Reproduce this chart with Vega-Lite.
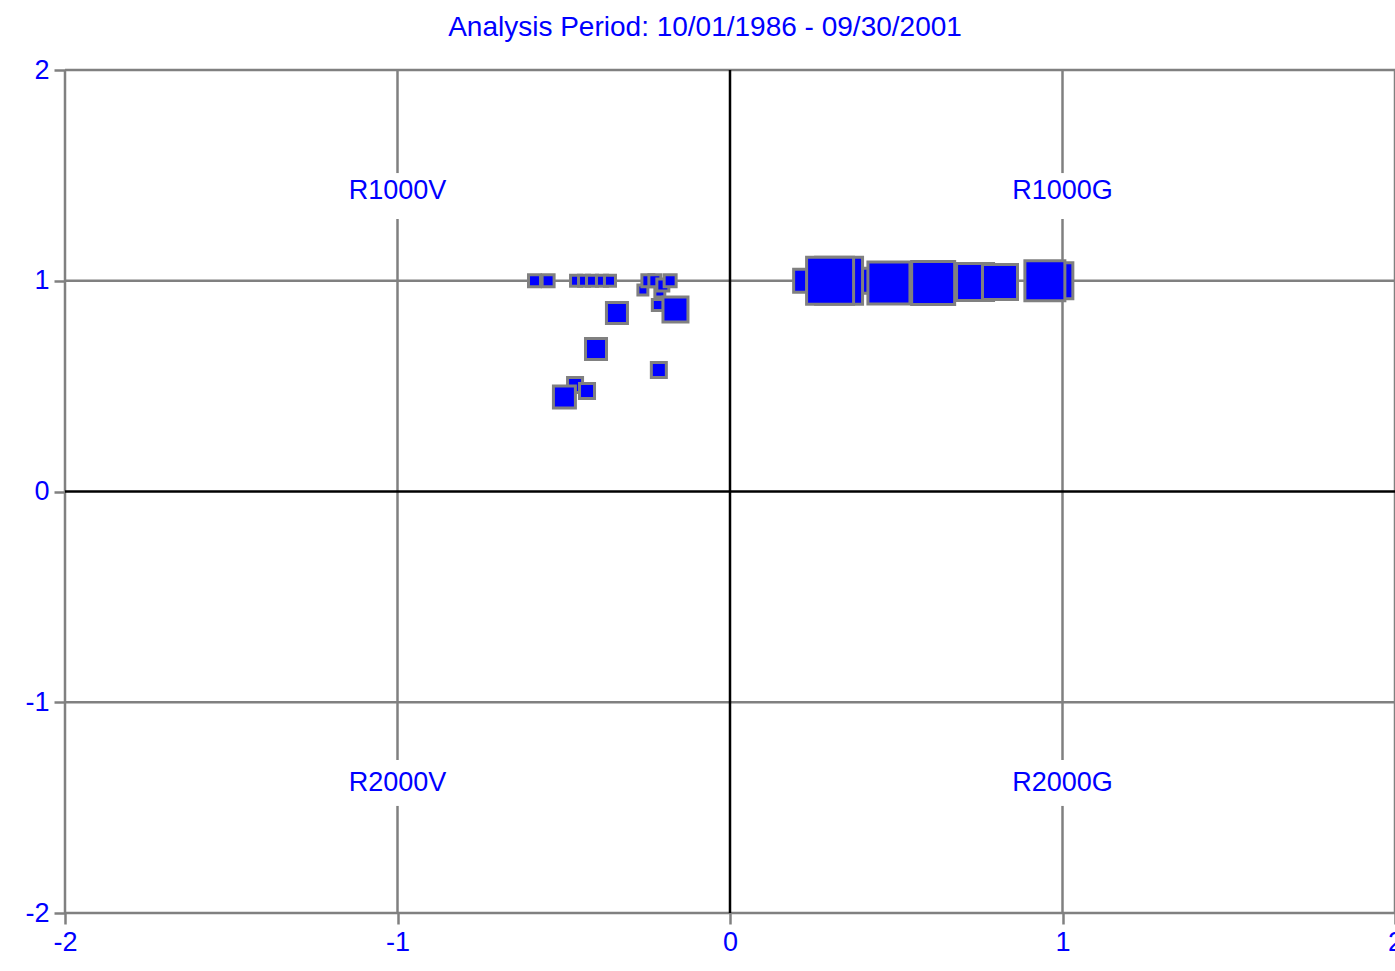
{
  "$schema": "https://vega.github.io/schema/vega-lite/v6.json",
  "width": 1330,
  "height": 843,
  "autosize": {"type": "none"},
  "padding": {"left": 65, "top": 70, "right": 0, "bottom": 58},
  "background": "white",
  "config": {"view": {"stroke": null}, "font": "Liberation Sans"},
  "title": {
    "text": "Analysis Period: 10/01/1986 - 09/30/2001",
    "fontSize": 28,
    "fontWeight": "normal",
    "color": "#0000ff",
    "font": "Liberation Sans",
    "anchor": "middle",
    "offset": 14,
    "dx": -25
  },
  "datasets": {
    "grid": [
      {"x1": -2, "x2": 2, "y1": 2, "y2": 2},
      {"x1": -2, "x2": 2, "y1": 1, "y2": 1},
      {"x1": -2, "x2": 2, "y1": -1, "y2": -1},
      {"x1": -2, "x2": 2, "y1": -2, "y2": -2},
      {"x1": -2, "x2": -2, "y1": -2, "y2": 2},
      {"x1": 2, "x2": 2, "y1": -2, "y2": 2},
      {"x1": -1, "x2": -1, "y1": -2, "y2": -1.492},
      {"x1": -1, "x2": -1, "y1": -1.274, "y2": 1.293},
      {"x1": -1, "x2": -1, "y1": 1.511, "y2": 2},
      {"x1": 1, "x2": 1, "y1": -2, "y2": -1.492},
      {"x1": 1, "x2": 1, "y1": -1.274, "y2": 1.293},
      {"x1": 1, "x2": 1, "y1": 1.511, "y2": 2}
    ],
    "zero": [
      {"x1": 0, "x2": 0, "y1": -2, "y2": 2},
      {"x1": -2, "x2": 2, "y1": 0, "y2": 0}
    ],
    "labels": [
      {"x": -1, "y": 1.426, "label": "R1000V"},
      {"x": 1, "y": 1.426, "label": "R1000G"},
      {"x": -1, "y": -1.383, "label": "R2000V"},
      {"x": 1, "y": -1.383, "label": "R2000G"}
    ],
    "points": [
      {"x": -0.547, "y": 1.0, "w": 0.065},
      {"x": -0.588, "y": 1.0, "w": 0.065},
      {"x": -0.463, "y": 1.0, "w": 0.055},
      {"x": -0.439, "y": 1.0, "w": 0.055},
      {"x": -0.415, "y": 1.0, "w": 0.055},
      {"x": -0.385, "y": 1.0, "w": 0.055},
      {"x": -0.361, "y": 1.0, "w": 0.055},
      {"x": -0.211, "y": 0.947, "w": 0.045},
      {"x": -0.262, "y": 0.956, "w": 0.045},
      {"x": -0.247, "y": 1.0, "w": 0.065},
      {"x": -0.226, "y": 1.0, "w": 0.065},
      {"x": -0.202, "y": 0.98, "w": 0.065},
      {"x": -0.18, "y": 1.0, "w": 0.065},
      {"x": -0.217, "y": 0.885, "w": 0.055},
      {"x": -0.164, "y": 0.864, "w": 0.283},
      {"x": -0.34, "y": 0.847, "w": 0.2},
      {"x": -0.403, "y": 0.676, "w": 0.2},
      {"x": -0.214, "y": 0.577, "w": 0.102},
      {"x": -0.466, "y": 0.505, "w": 0.102},
      {"x": -0.43, "y": 0.477, "w": 0.102},
      {"x": -0.498, "y": 0.448, "w": 0.219},
      {"x": 0.226, "y": 1.0, "w": 0.24},
      {"x": 0.406, "y": 1.0, "w": 0.283},
      {"x": 0.328, "y": 1.0, "w": 1.0},
      {"x": 0.301, "y": 1.0, "w": 1.0},
      {"x": 0.478, "y": 0.989, "w": 0.8},
      {"x": 0.611, "y": 0.989, "w": 0.837},
      {"x": 0.737, "y": 0.994, "w": 0.62},
      {"x": 0.812, "y": 0.994, "w": 0.555},
      {"x": 0.977, "y": 1.0, "w": 0.587},
      {"x": 0.947, "y": 1.0, "w": 0.724}
    ]
  },
  "layer": [
    {
      "data": {"name": "grid"},
      "mark": {"type": "rule", "color": "#808080", "strokeWidth": 2.5},
      "encoding": {
        "x": {
          "field": "x1", "type": "quantitative",
          "scale": {"domain": [-2, 2], "nice": false, "zero": false},
          "axis": {
            "values": [-2, -1, 0, 1, 2],
            "title": null,
            "domain": false,
            "grid": false,
            "ticks": true,
            "tickColor": "#808080",
            "tickWidth": 2.5,
            "tickSize": 11,
            "labelColor": "#0000ff",
            "labelFont": "Liberation Sans",
            "labelFontSize": 27,
            "labelPadding": 5,
            "labelFlush": false,
            "labelOverlap": false,
            "labelExpr": "'' + datum.value"
          }
        },
        "x2": {"field": "x2"},
        "y": {
          "field": "y1", "type": "quantitative",
          "scale": {"domain": [-2, 2], "nice": false, "zero": false},
          "axis": {
            "values": [-2, -1, 0, 1, 2],
            "title": null,
            "domain": false,
            "grid": false,
            "ticks": true,
            "tickColor": "#808080",
            "tickWidth": 2.5,
            "tickSize": 11,
            "labelColor": "#0000ff",
            "labelFont": "Liberation Sans",
            "labelFontSize": 27,
            "labelPadding": 5,
            "labelFlush": false,
            "labelOverlap": false,
            "labelExpr": "'' + datum.value"
          }
        },
        "y2": {"field": "y2"}
      }
    },
    {
      "data": {"name": "zero"},
      "mark": {"type": "rule", "color": "#000000", "strokeWidth": 2.5},
      "encoding": {
        "x": {"field": "x1", "type": "quantitative"},
        "x2": {"field": "x2"},
        "y": {"field": "y1", "type": "quantitative"},
        "y2": {"field": "y2"}
      }
    },
    {
      "data": {"name": "labels"},
      "mark": {"type": "text", "color": "#0000ff", "fontSize": 27, "font": "Liberation Sans", "align": "center", "baseline": "middle"},
      "encoding": {
        "x": {"field": "x", "type": "quantitative"},
        "y": {"field": "y", "type": "quantitative"},
        "text": {"field": "label"}
      }
    },
    {
      "data": {"name": "points"},
      "mark": {"type": "point", "shape": "square", "filled": true, "color": "#0000ff", "fill": "#0000ff", "stroke": "#808080", "strokeWidth": 3, "opacity": 1, "fillOpacity": 1, "strokeOpacity": 1},
      "encoding": {
        "x": {"field": "x", "type": "quantitative"},
        "y": {"field": "y", "type": "quantitative"},
        "size": {"field": "w", "type": "quantitative", "scale": {"domain": [0, 1], "range": [0, 2209]}, "legend": null}
      }
    }
  ]
}
